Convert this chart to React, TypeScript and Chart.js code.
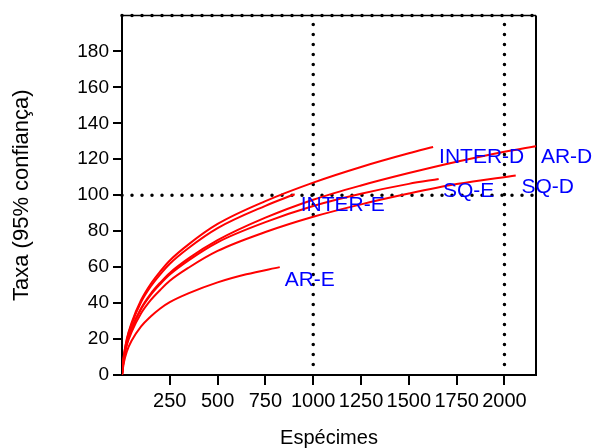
import React, { useEffect, useRef } from "react";
import { Chart, registerables } from "chart.js";

Chart.register(...registerables);

const FONT = "'Liberation Sans', Arial, sans-serif";

// Axis setup
const xMax = 2165;
const yMax = 200;
const xTicks = [250, 500, 750, 1000, 1250, 1500, 1750, 2000];
const yTicks = [0, 20, 40, 60, 80, 100, 120, 140, 160, 180];

// Rarefaction curves (Espécimes vs Taxa)
const interDX = [0, 10, 25, 50, 100, 150, 200, 250, 350, 500, 750, 1000, 1250, 1500, 1627];
const interDY = [0, 11, 20, 29, 41.7, 50.6, 57.6, 63.7, 72.8, 84, 96.7, 107, 115.7, 123.3, 126.8];

const interEX = [0, 10, 25, 50, 100, 150, 200, 250, 350, 500, 750, 903];
const interEY = [0, 10.7, 19.5, 28.2, 40.6, 49.2, 56, 61.9, 70.8, 81.7, 94.1, 100.5];

const arDX = [0, 10, 25, 50, 100, 150, 200, 250, 350, 500, 750, 1000, 1250, 1500, 1750, 2000, 2165];
const arDY = [0, 9.8, 17.8, 25.9, 37.2, 45.2, 51.4, 56.8, 65, 75, 87.5, 97.5, 105.4, 112.3, 118.6, 124.2, 127.3];

const sqEX = [0, 10, 25, 50, 100, 150, 200, 250, 350, 500, 750, 1000, 1250, 1500, 1656];
const sqEY = [0, 9.7, 17.6, 25.5, 36.7, 44.5, 50.6, 55.9, 63.9, 73.8, 85, 94, 100.8, 106.3, 109];

const sqDX = [0, 10, 25, 50, 100, 150, 200, 250, 350, 500, 750, 1000, 1250, 1500, 1750, 2059];
const sqDY = [0, 9.1, 16.5, 23.8, 34.3, 41.6, 47.3, 52.4, 59.8, 69, 79.5, 88, 94.9, 100.9, 106.2, 111];

const arEX = [0, 10, 25, 50, 100, 150, 200, 250, 350, 500, 650, 825];
const arEY = [0, 7, 13, 19, 27, 32.5, 37, 40.5, 45.5, 51.5, 56, 60];

// Text labels (data coordinates of label centres)
const labelNames = ["INTER-D", "AR-D", "SQ-E", "SQ-D", "INTER-E", "AR-E"];
const labelX = [1881, 2325, 1813, 2226, 1154, 982];
const labelY = [121, 121, 102, 104.4, 94.5, 53];

// Dotted reference lines
const refVX = [1000, 2000];
const refVFrom = 195;
const refVTo = 5;
const refHY = [100];

const pts = (xs: number[], ys: number[]) => xs.map((x, i) => ({ x, y: ys[i] }));

const labelPlugin = {
  id: "curveLabels",
  afterDatasetsDraw(chart: any) {
    const { ctx, scales } = chart;
    ctx.save();
    ctx.font = `21px ${FONT}`;
    ctx.fillStyle = "rgb(0,0,255)";
    ctx.textAlign = "center";
    ctx.textBaseline = "middle";
    labelNames.forEach((t, i) => {
      ctx.fillText(t, scales.x.getPixelForValue(labelX[i]), scales.y.getPixelForValue(labelY[i]));
    });
    ctx.restore();
  },
};

export default function App() {
  const ref = useRef<HTMLCanvasElement | null>(null);

  useEffect(() => {
    if (!ref.current) return;
    const curve = (xs: number[], ys: number[]) => ({
      data: pts(xs, ys),
      borderColor: "#ff0000",
      borderWidth: 2,
      pointRadius: 0,
      fill: false,
      cubicInterpolationMode: "monotone" as const,
      order: 0,
    });
    const dotted = (data: { x: number; y: number }[]) => ({
      data,
      borderColor: "#000",
      borderWidth: 3.5,
      borderDash: [0, 10],
      borderCapStyle: "round" as const,
      pointRadius: 0,
      fill: false,
      tension: 0,
      clip: false,
      order: 2,
    });
    const solid = (data: { x: number; y: number }[], w: number) => ({
      data,
      borderColor: "#000",
      borderWidth: w,
      pointRadius: 0,
      fill: false,
      tension: 0,
      clip: false,
      order: 1,
    });

    const datasets: any[] = [
      curve(interDX, interDY),
      curve(interEX, interEY),
      curve(arDX, arDY),
      curve(sqEX, sqEY),
      curve(sqDX, sqDY),
      curve(arEX, arEY),
      ...refVX.map((v) => dotted([{ x: v, y: refVFrom }, { x: v, y: refVTo }])),
      ...refHY.map((v) => dotted([{ x: 0, y: v }, { x: xMax, y: v }])),
      dotted([{ x: 0, y: yMax }, { x: xMax, y: yMax }]),
      solid([{ x: 0, y: yMax }, { x: xMax, y: yMax }], 1.5),
      solid([{ x: xMax, y: 0 }, { x: xMax, y: yMax }], 2),
    ];

    const chart = new Chart(ref.current, {
      type: "line",
      data: { datasets },
      plugins: [labelPlugin],
      options: {
        animation: false,
        responsive: false,
        maintainAspectRatio: false,
        devicePixelRatio: 1,
        layout: { padding: { left: 0, right: 58, top: 13, bottom: 0 } },
        plugins: { legend: { display: false }, tooltip: { enabled: false } },
        scales: {
          x: {
            type: "linear",
            min: 0,
            max: xMax,
            afterBuildTicks: (ax: any) => {
              ax.ticks = xTicks.map((v) => ({ value: v }));
            },
            afterFit: (s: any) => {
              s.height = 73;
            },
            grid: { drawOnChartArea: false, drawTicks: true, tickLength: 10, color: "#000", lineWidth: 2 },
            border: { display: true, color: "#000", width: 2 },
            ticks: {
              font: { size: 20, family: FONT },
              color: "#000",
              padding: 4,
              maxRotation: 0,
              autoSkip: false,
              callback: (v: any) => String(v),
            },
            title: {
              display: true,
              text: "Espécimes",
              font: { size: 20, family: FONT, lineHeight: 1.0 },
              color: "#000",
              padding: { top: 0, bottom: 0 },
            },
          },
          y: {
            type: "linear",
            min: 0,
            max: yMax,
            afterBuildTicks: (ax: any) => {
              ax.ticks = yTicks.map((v) => ({ value: v }));
            },
            afterFit: (s: any) => {
              s.width = 122;
            },
            grid: { drawOnChartArea: false, drawTicks: true, tickLength: 9, color: "#000", lineWidth: 2 },
            border: { display: true, color: "#000", width: 2 },
            ticks: {
              font: { size: 19, family: FONT },
              color: "#000",
              padding: 4,
              autoSkip: false,
              callback: (v: any) => String(v),
            },
            title: {
              display: true,
              text: "Taxa (95% confiança)",
              font: { size: 22, family: FONT },
              color: "#000",
              padding: { top: 9, bottom: 0 },
            },
          },
        },
      },
    });
    return () => chart.destroy();
  }, []);

  return (
    <div style={{ position: "absolute", left: 0, top: 0, width: 594, height: 448, background: "#fff" }}>
      <canvas ref={ref} width={594} height={448} style={{ display: "block", width: 594, height: 448 }} />
    </div>
  );
}
